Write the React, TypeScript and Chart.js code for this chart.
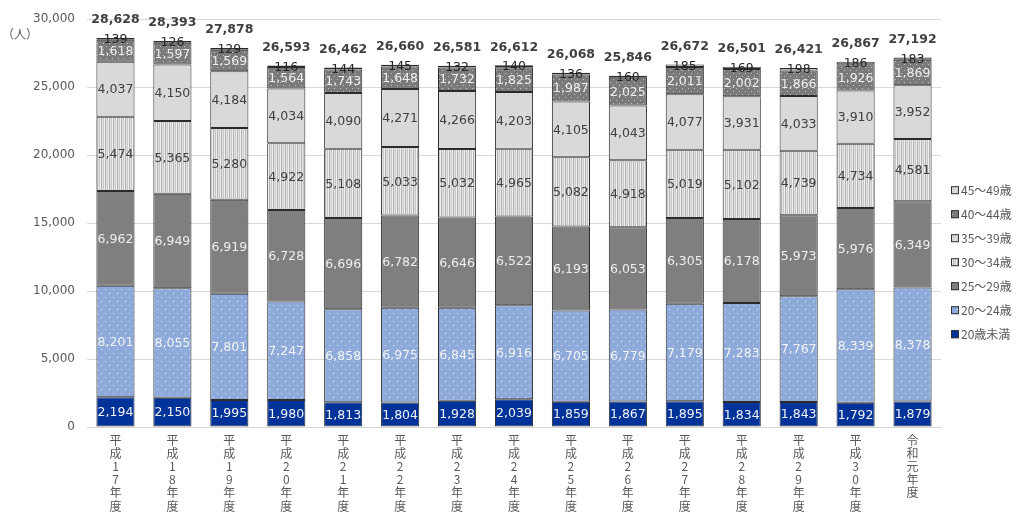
import React, { useEffect, useRef } from "react";
import { Chart, registerables } from "chart.js";

Chart.register(...registerables);

const categories = [
  "平成17年度", "平成18年度", "平成19年度", "平成20年度", "平成21年度",
  "平成22年度", "平成23年度", "平成24年度", "平成25年度", "平成26年度",
  "平成27年度", "平成28年度", "平成29年度", "平成30年度", "令和元年度",
];

const seriesNames = ["20歳未満", "20～24歳", "25～29歳", "30～34歳", "35～39歳", "40～44歳", "45～49歳"];

const under20 = [2194, 2150, 1995, 1980, 1813, 1804, 1928, 2039, 1859, 1867, 1895, 1834, 1843, 1792, 1879];
const age20to24 = [8201, 8055, 7801, 7247, 6858, 6975, 6845, 6916, 6705, 6779, 7179, 7283, 7767, 8339, 8378];
const age25to29 = [6962, 6949, 6919, 6728, 6696, 6782, 6646, 6522, 6193, 6053, 6305, 6178, 5973, 5976, 6349];
const age30to34 = [5474, 5365, 5280, 4922, 5108, 5033, 5032, 4965, 5082, 4918, 5019, 5102, 4739, 4734, 4581];
const age35to39 = [4037, 4150, 4184, 4034, 4090, 4271, 4266, 4203, 4105, 4043, 4077, 3931, 4033, 3910, 3952];
const age40to44 = [1618, 1597, 1569, 1564, 1743, 1648, 1732, 1825, 1987, 2025, 2011, 2002, 1866, 1926, 1869];
const age45to49 = [139, 126, 129, 116, 144, 145, 132, 140, 136, 160, 185, 169, 198, 186, 183];
const totals = [28628, 28393, 27878, 26593, 26462, 26660, 26581, 26612, 26068, 25846, 26672, 26501, 26421, 26867, 27192];

const yTicks = [0, 5000, 10000, 15000, 20000, 25000, 30000];

const fmt = (v: number) => v.toLocaleString("en-US");

function makePattern(size: number, draw: (c: CanvasRenderingContext2D) => void): CanvasPattern | string {
  const cv = document.createElement("canvas");
  cv.width = size;
  cv.height = size;
  const c = cv.getContext("2d");
  if (!c) return "#888";
  draw(c);
  const p = c.createPattern(cv, "repeat");
  return p || "#888";
}

export default function App() {
  const ref = useRef<HTMLCanvasElement | null>(null);

  useEffect(() => {
    document.body.style.margin = "0";
    const canvas = ref.current;
    if (!canvas) return;

    const bluedots = makePattern(8, (c) => {
      c.fillStyle = "#8eaadb";
      c.fillRect(0, 0, 8, 8);
      c.fillStyle = "#dce6f7";
      c.fillRect(1, 1, 1, 1);
      c.fillRect(5, 5, 1, 1);
    });
    const graydots = makePattern(6, (c) => {
      c.fillStyle = "#7a7a7a";
      c.fillRect(0, 0, 6, 6);
      c.fillStyle = "#c4c4c4";
      c.fillRect(1, 1, 1, 1);
      c.fillRect(4, 4, 1, 1);
    });
    const stripes = makePattern(4, (c) => {
      const cols = ["#f0f0f0", "#b4b4b4", "#e2e2e2", "#c8c8c8"];
      cols.forEach((col, i) => {
        c.fillStyle = col;
        c.fillRect(i, 0, 1, 4);
      });
    });

    const fills = ["#00339a", bluedots, "#7f7f7f", stripes, "#d9d9d9", graydots, "#d9d9d9"];
    const labelColors = ["#f2f2f2", "#f2f2f2", "#eeeeee", "#404040", "#404040", "#eeeeee", "#262626"];
    const seriesData = [under20, age20to24, age25to29, age30to34, age35to39, age40to44, age45to49];

    const labelsPlugin = {
      id: "labelsPlugin",
      afterDatasetsDraw(chart: any) {
        const ctx = chart.ctx as CanvasRenderingContext2D;
        const area = chart.chartArea;
        ctx.save();
        ctx.textAlign = "center";
        ctx.textBaseline = "middle";
        ctx.font = "12.5px 'DejaVu Sans'";
        chart.data.datasets.forEach((ds: any, di: number) => {
          const meta = chart.getDatasetMeta(di);
          meta.data.forEach((bar: any, i: number) => {
            const p = bar.getProps(["x", "y", "base"], true);
            const cy = (p.y + p.base) / 2;
            ctx.fillStyle = labelColors[di];
            ctx.fillText(fmt(ds.data[i]), p.x, cy + 1);
          });
        });
        // totals
        ctx.font = "bold 12.5px 'DejaVu Sans'";
        ctx.fillStyle = "#404040";
        const m0 = chart.getDatasetMeta(0);
        const ys = chart.scales.y;
        totals.forEach((t, i) => {
          const x = m0.data[i].x;
          ctx.fillText(fmt(t), x, ys.getPixelForValue(t) - 18);
        });
        // unit label
        ctx.font = "12px 'Noto Sans CJK JP'";
        ctx.fillStyle = "#595959";
        ctx.textAlign = "left";
        ctx.fillText("（人）", 2, area.top + 15);
        // legend
        ctx.font = "12px 'Noto Sans CJK JP'";
        const lx = area.right + 10;
        const ly0 = area.top + 171;
        for (let k = 0; k < seriesNames.length; k++) {
          const di = seriesNames.length - 1 - k;
          const yc = ly0 + k * 24;
          ctx.fillStyle = fills[di] as any;
          ctx.fillRect(lx, yc - 4, 8, 8);
          ctx.strokeStyle = "#333333";
          ctx.lineWidth = 1;
          ctx.strokeRect(lx + 0.5, yc - 3.5, 7, 7);
          ctx.fillStyle = "#595959";
          ctx.fillText(seriesNames[di], lx + 10, yc);
        }
        ctx.restore();
      },
    };

    const chart = new Chart(canvas, {
      type: "bar",
      data: {
        labels: categories.map((c) => Array.from(c)),
        datasets: seriesData.map((d, i) => ({
          label: seriesNames[i],
          data: d,
          backgroundColor: fills[i] as any,
          borderColor: "#2b2b2b",
          borderWidth: 1,
          borderSkipped: false,
          barPercentage: 0.67,
          categoryPercentage: 1,
        })),
      },
      options: {
        responsive: false,
        animation: false,
        layout: { padding: { left: 0, right: 75, top: 17, bottom: 0 } },
        plugins: {
          legend: { display: false },
          tooltip: { enabled: false },
        },
        scales: {
          x: {
            stacked: true,
            grid: { display: false, drawTicks: false },
            border: { display: true, color: "#d9d9d9", width: 1 },
            ticks: {
              autoSkip: false,
              maxRotation: 0,
              minRotation: 0,
              padding: 7,
              color: "#595959",
              font: { family: "'Noto Sans CJK JP'", size: 12, lineHeight: 1.09 },
            },
            afterFit: (axis: any) => {
              axis.height = 85;
            },
          },
          y: {
            stacked: true,
            min: 0,
            max: 30000,
            afterBuildTicks: (axis: any) => {
              axis.ticks = yTicks.map((v) => ({ value: v }));
            },
            grid: { color: "#d9d9d9", drawTicks: false },
            border: { display: false },
            ticks: {
              padding: 12,
              color: "#595959",
              font: { family: "'DejaVu Sans'", size: 12 },
              callback: (v: any) => fmt(Number(v)),
            },
            afterFit: (axis: any) => {
              axis.width = 87;
            },
          },
        },
      },
      plugins: [labelsPlugin],
    });

    return () => chart.destroy();
  }, []);

  return (
    <div style={{ width: 1016, height: 512, position: "relative", background: "#fff" }}>
      <canvas ref={ref} width={1016} height={512} />
    </div>
  );
}
